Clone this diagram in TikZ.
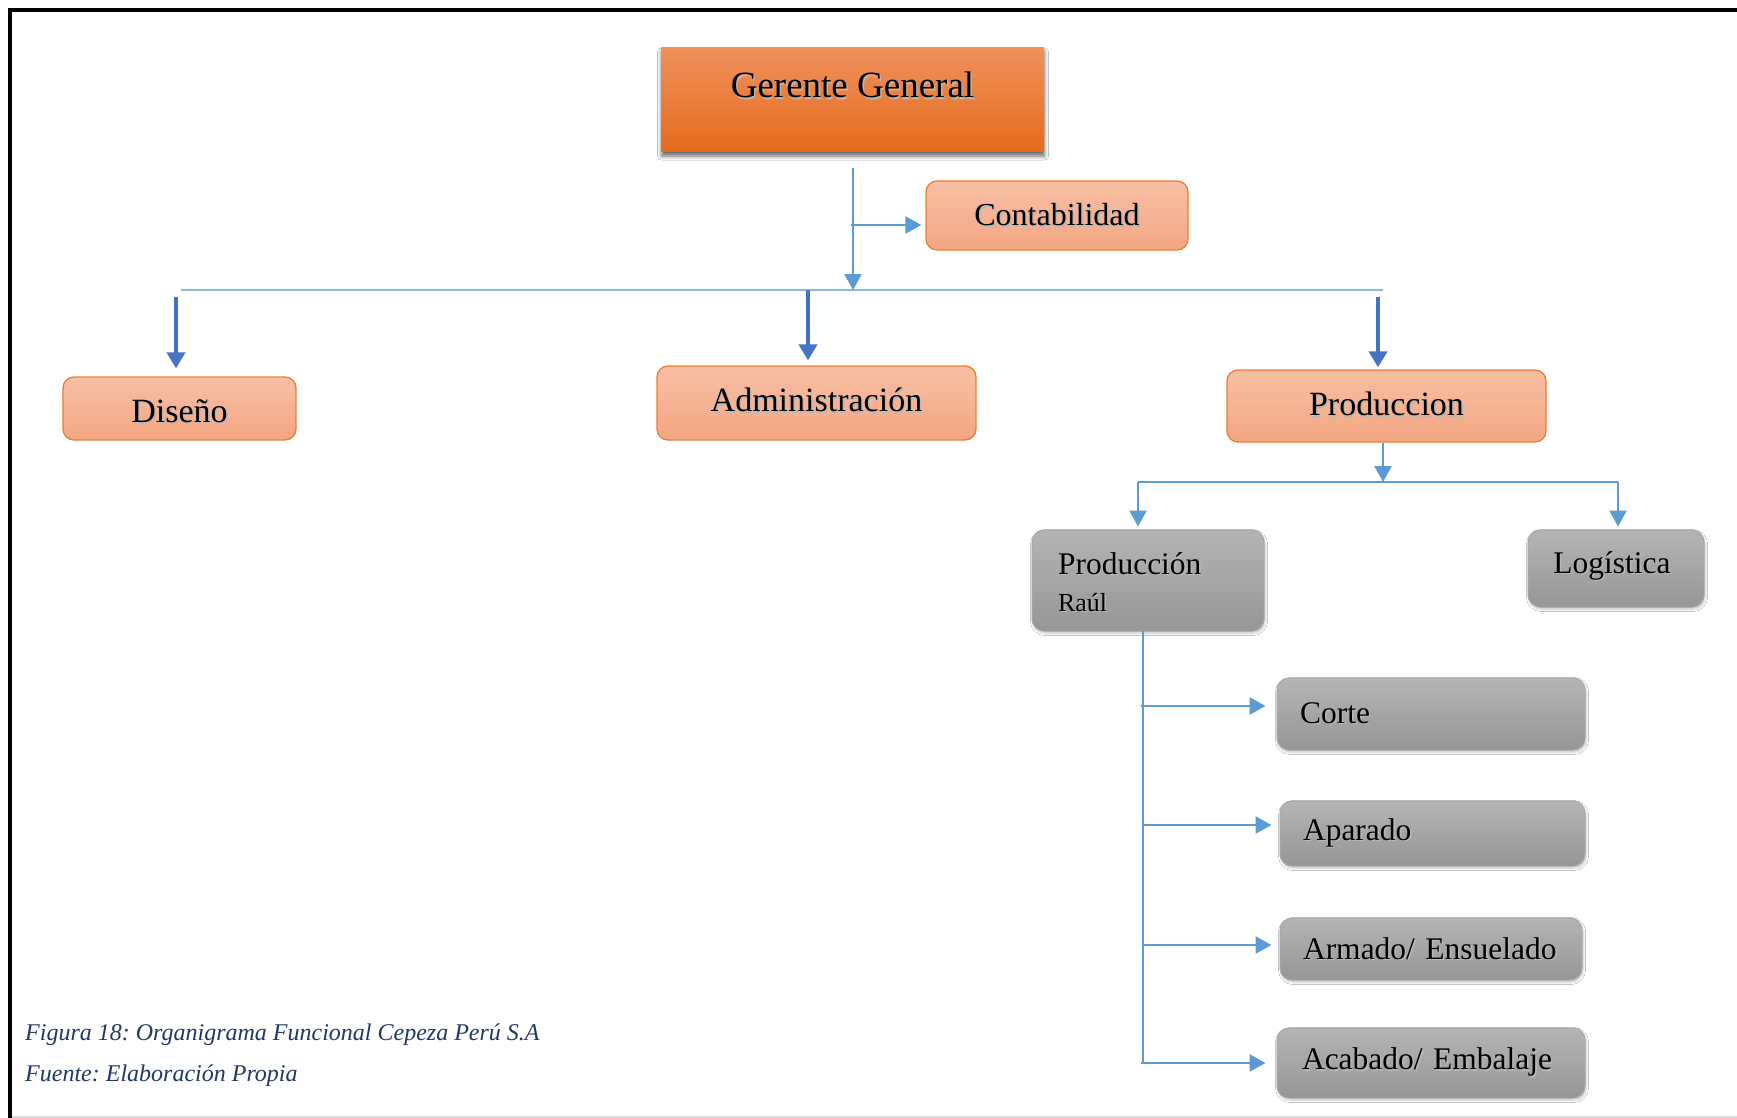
\documentclass[tikz,border=0pt]{standalone}
\usepackage{fontspec}
\setmainfont{Liberation Serif}
\usetikzlibrary{arrows.meta,calc,shadows.blur}
\frenchspacing

\definecolor{cline}{RGB}{91,155,213}
\definecolor{cbus}{RGB}{141,182,228}
\definecolor{cdark}{RGB}{68,114,196}
\definecolor{orborder}{RGB}{237,125,49}
\definecolor{ortop}{RGB}{247,191,164}
\definecolor{orbot}{RGB}{244,166,130}
\definecolor{ggtop}{RGB}{240,145,92}
\definecolor{ggmid}{RGB}{245,128,42}
\definecolor{ggbot}{RGB}{229,106,28}
\definecolor{grtop}{RGB}{180,180,180}
\definecolor{grbot}{RGB}{150,150,150}
\definecolor{grborder}{RGB}{168,168,168}
\definecolor{capcol}{RGB}{31,56,100}

% soft drop shadow behind a line of text
\newcommand\shtxt[1]{\leavevmode\rlap{\hspace{1.4pt}\raisebox{-1.4pt}{\textcolor{black!28}{#1}}}#1}
% move a label up or down inside its box without changing the box size
\newcommand\vmove[2]{\raisebox{#1}[\height][\depth]{#2}}

\tikzset{
  ggbox/.style={draw=none, top color=ggtop, middle color=ggmid, bottom color=ggbot,
    inner sep=0pt,
    blur shadow={shadow xshift=0.5pt, shadow yshift=-4pt, shadow blur radius=4pt, shadow opacity=60}},
  orbox/.style={draw=orborder, line width=1.3pt, rounded corners=11pt,
    top color=ortop, bottom color=orbot, inner sep=0pt,
    font=\fontsize{34}{40}\selectfont},
  grbox/.style={draw=grborder, line width=1pt, rounded corners=12pt,
    top color=grtop, bottom color=grbot, inner ysep=0pt,
    blur shadow={shadow xshift=1pt, shadow yshift=-2pt, shadow blur radius=2.5pt, shadow opacity=25},
    font=\fontsize{31.5}{36}\selectfont},
  larr/.style={draw=cline, line width=2.5pt, -{Triangle[length=16pt,width=17pt]}},
  lline/.style={draw=cline, line width=2.2pt},
  bus/.style={draw=cbus, line width=2pt},
  darr/.style={draw=cdark, line width=4.5pt, -{Triangle[length=16pt,width=18pt]}},
  caption/.style={text=capcol, font=\fontsize{24}{28}\selectfont\itshape, anchor=base west, inner sep=0pt}
}

\begin{document}
\begin{tikzpicture}[x=1pt,y=-1pt]
\useasboundingbox (0,0) rectangle (1737,1118);
\fill[white] (0,0) rectangle (1737,1118);

% page frame
\draw[gray!30, line width=1.5pt] (8,1117) -- (1737,1117);
\draw[black, line width=4pt] (10,1118) -- (10,10) -- (1737,10);

% top level
\node[ggbox, minimum width=383pt, minimum height=104pt,
  label={[font=\fontsize{37}{42}\selectfont, yshift=14pt]center:\shtxt{Gerente General}}] (gg) at (852.5,100) {};
\node[orbox, minimum width=262pt, minimum height=69pt, font=\fontsize{32}{38}\selectfont] (con) at (1057,215.5) {\shtxt{Contabilidad}};

% second level
\node[orbox, minimum width=233pt, minimum height=63pt] (dis) at (179.5,408.5) {\vmove{-3pt}{\shtxt{Diseño}}};
\node[orbox, minimum width=319pt, minimum height=74pt] (adm) at (816.5,403) {\vmove{2pt}{\shtxt{Administración}}};
\node[orbox, minimum width=319pt, minimum height=72pt] (pro) at (1386.5,406) {\vmove{1pt}{\shtxt{Produccion}}};

% production units
\node[grbox, text width=180pt, inner xsep=26pt, align=left, minimum height=101pt] (praul) at (1148,580.5)
  {\vmove{-2pt}{\shtxt{Producción}}\\[1pt]{\fontsize{26}{30}\selectfont\vmove{-2pt}{\shtxt{Raúl}}}};
\node[grbox, minimum width=176pt, minimum height=77pt, inner xsep=0pt] (log) at (1616,568.5) {\hspace{-8pt}\vmove{2pt}{\shtxt{Logística}}};
\node[grbox, text width=262pt, inner xsep=23pt, align=left, minimum height=72pt] (cor) at (1431,714) {\shtxt{Corte}};
\node[grbox, text width=259pt, inner xsep=23pt, align=left, minimum height=65pt] (apa) at (1432.5,833.5) {\shtxt{Aparado}};
\node[grbox, text width=256pt, inner xsep=23pt, align=left, minimum height=62pt] (arm) at (1431,949) {\shtxt{Armado/ Ensuelado}};
\node[grbox, text width=258pt, inner xsep=25pt, align=left, minimum height=70pt] (aca) at (1431,1063) {\shtxt{Acabado/ Embalaje}};

% connector points
\coordinate (ggout) at (853,168);
\coordinate (busL) at (181,290);
\coordinate (busR) at (1383,290);
\coordinate (conj) at (851,225);
\coordinate (bus2L) at (1138,482);
\coordinate (bus2R) at (1618,482);
\coordinate (spT) at (1143,631);
\coordinate (spB) at (1143,1064);
\coordinate (s1) at (1141,706);
\coordinate (s2) at (1143,825);
\coordinate (s3) at (1143,945);
\coordinate (s4) at (1141,1063);

% general manager branch
\draw[bus] (busL) -- (busR);
\draw[larr] (ggout) -- (ggout |- busL);
\draw[larr, shorten >=4pt] (conj) -- (conj -| con.west);

% second level arrows
\draw[darr] ($(dis.north)+(-3.5,-79)$) -- ($(dis.north)+(-3.5,-8)$);
\draw[darr] ($(adm.north)+(-8.5,-75)$) -- ($(adm.north)+(-8.5,-5)$);
\draw[darr] ($(pro.north)+(-8.5,-72)$) -- ($(pro.north)+(-8.5,-2)$);

% production branch
\draw[larr] ([xshift=-3.5pt]pro.south) -- ([xshift=-3.5pt]pro.south |- bus2L);
\draw[lline] (bus2L) -- (bus2R);
\draw[larr, shorten >=3pt] (bus2L) -- (bus2L |- praul.north);
\draw[larr, shorten >=3pt] (bus2R) -- (bus2R |- log.north);

% production sub-units
\draw[lline] (spT) -- (spB);
\draw[larr, shorten >=11pt] (s1) -- (s1 -| cor.west);
\draw[larr, shorten >=8pt] (s2) -- (s2 -| apa.west);
\draw[larr, shorten >=8pt] (s3) -- (s3 -| arm.west);
\draw[larr, shorten >=11pt] (s4) -- (s4 -| aca.west);

% caption
\node[caption] (fig) at (25,1040) {Figura 18: Organigrama Funcional Cepeza Perú S.A};
\node[caption] (src) at (25,1081) {Fuente: Elaboración Propia};
\end{tikzpicture}
\end{document}
